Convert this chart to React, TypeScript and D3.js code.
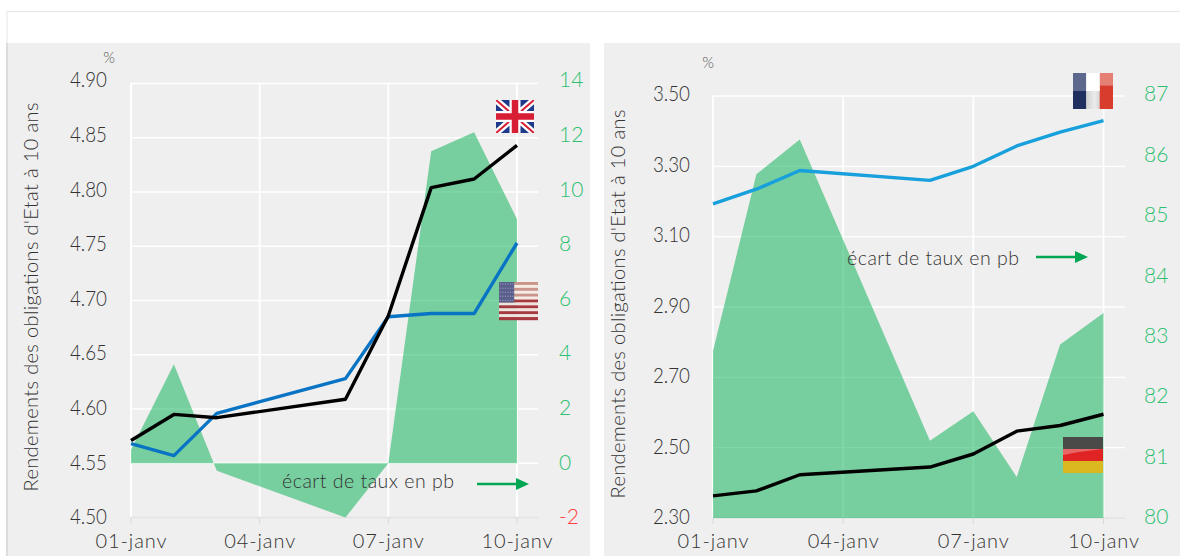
import React from "react";
import * as d3 from "d3";

// Trading days in January shown on both panels (no session on the 4th and 5th)
const tradingDays = [1, 2, 3, 6, 7, 8, 9, 10];
const dayTicks = [1, 4, 7, 10];

const giltYields = [4.571, 4.595, 4.592, 4.609, 4.686, 4.804, 4.812, 4.843];
const treasuryYields = [4.568, 4.557, 4.596, 4.628, 4.685, 4.688, 4.688, 4.753];
const ukUsSpread = [0.5, 3.65, -0.28, -2, 0, 11.5, 12.2, 9];

const oatYields = [3.193, 3.235, 3.288, 3.26, 3.3, 3.358, 3.397, 3.43];
const bundYields = [2.363, 2.377, 2.423, 2.445, 2.482, 2.547, 2.563, 2.595];
const frDeSpread = [82.77, 85.7, 86.28, 81.28, 81.77, 80.68, 82.88, 83.4];

const leftYieldTicks = [4.5, 4.55, 4.6, 4.65, 4.7, 4.75, 4.8, 4.85, 4.9];
const leftSpreadTicks = [-2, 0, 2, 4, 6, 8, 10, 12, 14];
const rightYieldTicks = [2.3, 2.5, 2.7, 2.9, 3.1, 3.3, 3.5];
const rightSpreadTicks = [80, 81, 82, 83, 84, 85, 86, 87];

const FONT = "Lato, 'Open Sans', sans-serif";
const PANEL_BG = "#efefef";
const TEXT = "#333333";
const SPREAD_TEXT = "#2cc070";
const NEGATIVE_TEXT = "#ff4040";
const AREA = "#00b050";

const dayLabel = (d: number) => `${String(d).padStart(2, "0")}-janv`;

type Line = { values: number[]; color: string };
type PanelProps = {
  xRange: [number, number];
  gridEnd: number;
  yRange: [number, number];
  labelRange: [number, number];
  yTicks: number[];
  spreadTicks: number[];
  spread: number[];
  spreadFloor: number;
  lines: Line[];
  yLabelX: number;
  yLabelY: number;
  yLabelText: string;
  yTickEnd: number;
  spreadLabelX: number;
  percent: [number, number];
  note: [number, number];
  arrow: [number, number, number];
};

function Panel(p: PanelProps) {
  const x = d3.scaleLinear().domain([1, 10]).range(p.xRange);
  const y = d3
    .scaleLinear()
    .domain([p.yTicks[0], p.yTicks[p.yTicks.length - 1]])
    .range(p.yRange);
  const y2 = d3
    .scaleLinear()
    .domain([p.spreadTicks[0], p.spreadTicks[p.spreadTicks.length - 1]])
    .range(p.yRange);
  // Tick labels sit on a slightly tighter ladder than the gridlines
  const yLabel = y.copy().range(p.labelRange);
  const y2Label = y2.copy().range(p.labelRange);

  const areaPath = d3
    .area<number>()
    .x((_, i) => x(tradingDays[i]))
    .y0(y2(p.spreadFloor))
    .y1((d) => y2(d))(p.spread)!;
  const linePath = d3
    .line<number>()
    .x((_, i) => x(tradingDays[i]))
    .y((d) => y(d));

  const bottom = p.yRange[0];
  const [ax0, ax1, ay] = p.arrow;

  return (
    <g fontFamily={FONT} fontWeight={300}>
      {p.yTicks.slice(1).map((t) => (
        <line key={t} x1={p.xRange[0]} x2={p.gridEnd} y1={y(t)} y2={y(t)} stroke="#fff" strokeWidth={1.4} />
      ))}
      {dayTicks.map((d) => (
        <line key={d} x1={x(d)} x2={x(d)} y1={p.yRange[1]} y2={bottom} stroke="#fff" strokeWidth={1.8} />
      ))}
      <line x1={p.xRange[0]} x2={p.gridEnd} y1={bottom} y2={bottom} stroke="#e2e2e2" strokeWidth={1.4} />
      {dayTicks.map((d) => (
        <line key={d} x1={x(d)} x2={x(d)} y1={bottom} y2={bottom + 6} stroke="#d8d8d8" strokeWidth={1} />
      ))}

      <path d={areaPath} fill={AREA} fillOpacity={0.5} />
      {p.lines.map((l) => (
        <path
          key={l.color}
          d={linePath(l.values)!}
          fill="none"
          stroke={l.color}
          strokeWidth={3.4}
          strokeLinejoin="round"
        />
      ))}

      {p.yTicks.map((t) => (
        <text
          key={t}
          x={p.yTickEnd}
          y={yLabel(t)}
          dy="0.35em"
          textAnchor="end"
          fontSize={21}
          textLength={37}
          lengthAdjust="spacingAndGlyphs"
          fill={TEXT}
        >
          {t.toFixed(2)}
        </text>
      ))}
      {p.spreadTicks.map((t) => (
        <text
          key={t}
          x={p.spreadLabelX}
          y={y2Label(t)}
          dy="0.35em"
          fontSize={21}
          fill={t < 0 ? NEGATIVE_TEXT : SPREAD_TEXT}
        >
          {t}
        </text>
      ))}
      {dayTicks.map((d) => (
        <text
          key={d}
          x={x(d)}
          y={541}
          dy="0.35em"
          textAnchor="middle"
          fontSize={20}
          textLength={71}
          fill={TEXT}
        >
          {dayLabel(d)}
        </text>
      ))}

      <text
        transform={`translate(${p.yLabelX},${p.yLabelY}) rotate(-90)`}
        textAnchor="middle"
        dy="0.35em"
        fontSize={20}
        textLength={389}
        fill={TEXT}
      >
        {p.yLabelText}
      </text>
      <text x={p.percent[0]} y={p.percent[1]} dy="0.35em" textAnchor="middle" fontSize={15} fill="#555555">
        %
      </text>
      <text x={p.note[0]} y={p.note[1]} dy="0.35em" fontSize={19.5} textLength={172} fill={TEXT}>
        écart de taux en pb
      </text>

      <line x1={ax0} x2={ax1 - 10} y1={ay} y2={ay} stroke="#00a651" strokeWidth={2.5} />
      <path d={`M${ax1 - 13},${ay - 6}L${ax1},${ay}L${ax1 - 13},${ay + 6}Z`} fill="#00a651" />
    </g>
  );
}

// Glossy country badges
function UkFlag({ x, y, w, h }: { x: number; y: number; w: number; h: number }) {
  return (
    <g transform={`translate(${x},${y})`}>
      <clipPath id="uk-clip">
        <rect width={w} height={h} />
      </clipPath>
      <g clipPath="url(#uk-clip)">
        <rect width={w} height={h} fill="#1f3a8a" />
        <path d={`M0,0L${w},${h}M${w},0L0,${h}`} stroke="#fff" strokeWidth={6.5} />
        <path d={`M0,0L${w},${h}M${w},0L0,${h}`} stroke="#d81e34" strokeWidth={2} />
        <path d={`M${w / 2},0V${h}M0,${h / 2}H${w}`} stroke="#fff" strokeWidth={11} />
        <path d={`M${w / 2},0V${h}M0,${h / 2}H${w}`} stroke="#d81e34" strokeWidth={6.5} />
      </g>
    </g>
  );
}

function UsFlag({ x, y, w, h }: { x: number; y: number; w: number; h: number }) {
  const stripeH = h / 13;
  const cantonW = w * 0.39;
  const cantonH = stripeH * 7;
  return (
    <g transform={`translate(${x},${y})`}>
      {d3.range(13).map((i) => (
        <rect
          key={i}
          y={i * stripeH}
          width={w}
          height={stripeH + 0.2}
          fill={i % 2 === 0 ? (i < 6 ? "#c9958a" : "#a8383f") : i < 6 ? "#f6ece6" : "#efe3e0"}
        />
      ))}
      <rect width={cantonW} height={cantonH} fill="#5a5f8c" />
      {d3.range(5).map((r) =>
        d3.range(6).map((c) => (
          <circle
            key={`${r}-${c}`}
            cx={(c + 0.5) * (cantonW / 6)}
            cy={(r + 0.5) * (cantonH / 5)}
            r={0.7}
            fill="#8f92b4"
          />
        ))
      )}
    </g>
  );
}

function FrFlag({ x, y, w, h }: { x: number; y: number; w: number; h: number }) {
  const band = w / 3;
  return (
    <g transform={`translate(${x},${y})`}>
      <linearGradient id="fr-white" x1="0" x2="1" y1="0" y2="0">
        <stop offset="0" stopColor="#cfcfcf" />
        <stop offset="0.6" stopColor="#ebebeb" />
        <stop offset="1" stopColor="#d8d8d8" />
      </linearGradient>
      <rect width={band} height={h} fill="#1f3060" />
      <rect x={band} width={band} height={h} fill="url(#fr-white)" />
      <rect x={band * 2} width={band} height={h} fill="#d83c2c" />
      <rect width={band} height={h * 0.5} fill="#fff" fillOpacity={0.28} />
      <rect x={band} width={band} height={h * 0.5} fill="#fff" />
      <rect x={band * 2} width={band} height={h * 0.35} fill="#fff" fillOpacity={0.35} />
    </g>
  );
}

function DeFlag({ x, y, w, h }: { x: number; y: number; w: number; h: number }) {
  const band = h / 3;
  return (
    <g transform={`translate(${x},${y})`}>
      <rect width={w} height={band} fill="#4a4a48" />
      <rect y={band} width={w} height={band} fill="#e02424" />
      <rect y={band * 2} width={w} height={band} fill="#dcb820" />
      <path d={`M0,${band}H${w}Q${w * 0.5},${band + 2} 0,${band + 6}Z`} fill="#fff" fillOpacity={0.3} />
    </g>
  );
}

export default function App() {
  return (
    <svg
      width={1180}
      height={556}
      viewBox="0 0 1180 556"
      style={{ position: "absolute", left: 0, top: 0, display: "block" }}
    >
      <rect width={1180} height={556} fill="#fff" />
      <path d="M7,43V11.5H1180" fill="none" stroke="#e6e6e6" strokeWidth={1} />
      <rect x={6} y={43} width={584} height={513} fill={PANEL_BG} />
      <rect x={6} y={43} width={2} height={513} fill="#dcdcdc" />
      <rect x={604} y={43} width={576} height={513} fill={PANEL_BG} />

      <Panel
        xRange={[131, 517]}
        gridEnd={538}
        yRange={[517.5, 83.5]}
        labelRange={[517, 80]}
        yTicks={leftYieldTicks}
        spreadTicks={leftSpreadTicks}
        spread={ukUsSpread}
        spreadFloor={0}
        lines={[
          { values: treasuryYields, color: "#0a74c4" },
          { values: giltYields, color: "#000000" },
        ]}
        yLabelX={31}
        yLabelY={297}
        yLabelText="Rendements des obligations d'Etat à 10 ans"
        yTickEnd={107}
        spreadLabelX={559}
        percent={[109, 58]}
        note={[282, 481]}
        arrow={[477, 529, 484]}
      />
      <Panel
        xRange={[713, 1103.5]}
        gridEnd={1125}
        yRange={[518, 96]}
        labelRange={[517, 94]}
        yTicks={rightYieldTicks}
        spreadTicks={rightSpreadTicks}
        spread={frDeSpread}
        spreadFloor={80}
        lines={[
          { values: oatYields, color: "#17a0dc" },
          { values: bundYields, color: "#000000" },
        ]}
        yLabelX={618}
        yLabelY={304}
        yLabelText="Rendements des obligations d'Etat à 10 ans"
        yTickEnd={690}
        spreadLabelX={1144}
        percent={[708, 63]}
        note={[847, 258]}
        arrow={[1036, 1088, 257]}
      />

      <UkFlag x={496} y={100} w={38} h={33} />
      <UsFlag x={499} y={282} w={39} h={38} />
      <FrFlag x={1073} y={73} w={40} h={36} />
      <DeFlag x={1063} y={437} w={40} h={36} />
    </svg>
  );
}
